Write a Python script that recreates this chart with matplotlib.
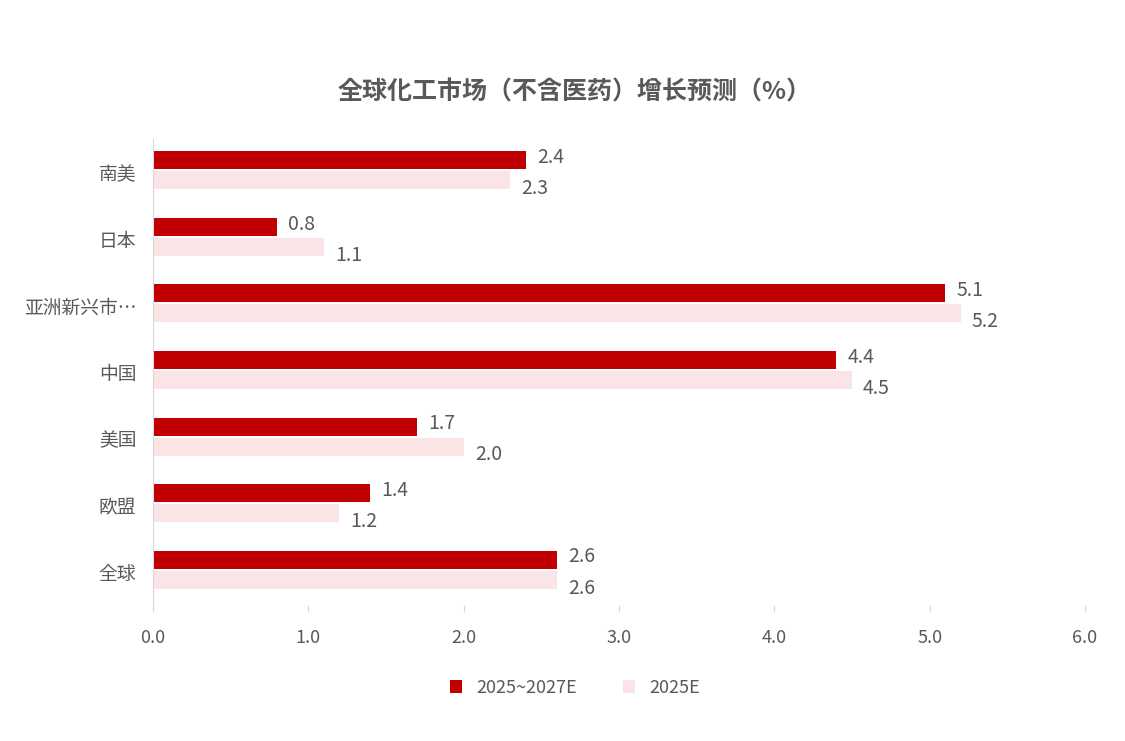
import matplotlib.pyplot as plt
from matplotlib import font_manager
import numpy as np

names = {f.name for f in font_manager.fontManager.ttflist}
cjk = [n for n in ["Noto Sans CJK SC", "Noto Sans CJK JP", "Noto Sans CJK TC", "Noto Sans CJK KR"] if n in names]
plt.rcParams["font.family"] = "sans-serif"
plt.rcParams["font.sans-serif"] = cjk + ["Noto Sans", "DejaVu Sans"]

TEXT = "#595959"
DARK = "#c00000"
LIGHT = "#fbe4e6"

categories = ["全球", "欧盟", "美国", "中国", "亚洲新兴市…", "日本", "南美"]
growth_2025_2027 = [2.6, 1.4, 1.7, 4.4, 5.1, 0.8, 2.4]
growth_2025 = [2.6, 1.2, 2.0, 4.5, 5.2, 1.1, 2.3]
xticks = [0.0, 1.0, 2.0, 3.0, 4.0, 5.0, 6.0]

fig = plt.figure(figsize=(11.25, 7.41), dpi=100)
ax = fig.add_axes([153 / 1125, 136 / 741, 932 / 1125, 466 / 741])

y = np.arange(len(categories))
h = 0.27
off = 0.15
ax.barh(y + off + 0.03, growth_2025_2027, height=h, color=DARK, label="2025~2027E")
ax.barh(y - off + 0.03, growth_2025, height=h, color=LIGHT, label="2025E")

for yi, v in zip(y, growth_2025_2027):
    ax.annotate(f"{v:.1f}", (v, yi + off + 0.03), xytext=(8, 2), textcoords="offset points",
                va="center", ha="left", fontsize=14, color=TEXT)
for yi, v in zip(y, growth_2025):
    ax.annotate(f"{v:.1f}", (v, yi - off + 0.03), xytext=(8, -6), textcoords="offset points",
                va="center", ha="left", fontsize=14, color=TEXT)

ax.set_xlim(0, 6)
ax.set_ylim(-0.5, len(categories) - 0.5)
ax.set_xticks(xticks)
ax.set_xticklabels([f"{t:.1f}" for t in xticks], fontsize=13, color=TEXT)
ax.set_yticks(y)
ax.set_yticklabels(categories, fontsize=13.5, color=TEXT)
ax.tick_params(axis="y", length=0, pad=12)
ax.tick_params(axis="x", length=5, color="#d9d9d9", pad=12)
for s in ["top", "right", "bottom"]:
    ax.spines[s].set_visible(False)
ax.spines["left"].set_color("#d9d9d9")

fig.text(575 / 1125, 1 - 92 / 741, "全球化工市场（不含医药）增长预测（%）", ha="center", va="center",
         fontsize=18, fontweight="bold", color=TEXT)

fig.legend(loc="center", bbox_to_anchor=(575 / 1125, 1 - 688 / 741), ncol=2, frameon=False,
           fontsize=13, handlelength=0.7, handleheight=0.7, columnspacing=2.5,
           labelcolor=TEXT)

fig.savefig("out.png", dpi=100, facecolor="white")
